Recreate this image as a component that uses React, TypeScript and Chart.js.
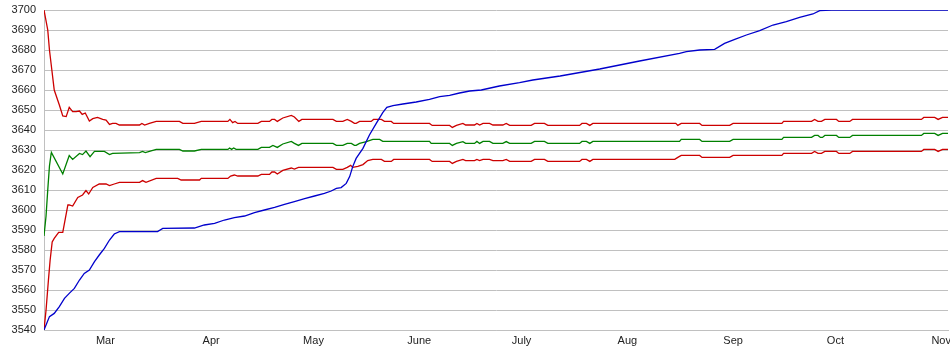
import React, { useEffect, useRef } from "react";
import { Chart, registerables } from "chart.js";

Chart.register(...registerables);

// x = days since Feb 11
const monthDays = [18, 49, 79, 110, 140, 171, 202, 232, 263];
const monthLabels = ["Mar", "Apr", "May", "June", "July", "Aug", "Sep", "Oct", "Nov"];

const blueDays = [0, 1.6, 3.0, 4.5, 6.0, 7.4, 8.9, 10.4, 11.8, 13.3, 14.8, 16.2, 17.7, 19.2, 20.6, 22.1, 33.3, 34.8, 44.1, 47.0, 50.0, 52.9, 55.8, 58.8, 61.7, 64.6, 67.6, 70.5, 73.4, 76.4, 79.3, 82.2, 84.2, 85.7, 87.1, 88.6, 89.6, 90.5, 91.5, 93.5, 95.4, 97.4, 99.3, 100.5, 102.3, 105.2, 109.1, 113.0, 116.0, 118.9, 121.8, 124.8, 128.2, 133.5, 139.4, 143.3, 151.3, 162.9, 174.6, 186.3, 188.3, 192.2, 196.6, 199.5, 202.5, 205.9, 209.8, 213.7, 217.6, 221.5, 225.4, 227.4, 230.8, 265];
const blueValues = [3540, 3546.7, 3548.3, 3551.7, 3555.8, 3558.3, 3560.8, 3565, 3568.3, 3570, 3574.2, 3577.5, 3580.8, 3585, 3588, 3589.2, 3589.2, 3590.8, 3591, 3592.5, 3593.3, 3595, 3596.2, 3597, 3598.7, 3600, 3601.3, 3602.8, 3604.2, 3605.7, 3607, 3608.3, 3609.5, 3610.8, 3611.2, 3613.3, 3616.7, 3621.7, 3625.8, 3630.8, 3637.5, 3643.3, 3648.7, 3651.3, 3652.2, 3653, 3654, 3655.3, 3656.7, 3657.3, 3658.5, 3659.5, 3660, 3662, 3663.7, 3665, 3667, 3670.5, 3674.5, 3678.3, 3679.2, 3680, 3680.3, 3683.3, 3685.3, 3687.5, 3689.7, 3692.5, 3694.2, 3696.3, 3698, 3699.7, 3700, 3700];

const upperDays = [0, 1.1, 1.6, 2.3, 3.0, 4.5, 5.5, 6.5, 7.4, 8.4, 9.4, 10.4, 11.2, 12.1, 13.3, 14.3, 15.7, 17.2, 18.2, 19.2, 20.1, 21.1, 22.1, 28.0, 28.7, 29.5, 30.9, 32.9, 39.7, 40.7, 44.1, 46.1, 53.9, 54.5, 55.3, 56.0, 56.8, 62.7, 63.7, 66.1, 66.8, 67.6, 68.4, 70.0, 72.5, 73.4, 74.7, 75.6, 84.7, 85.7, 87.6, 88.9, 90.1, 91.0, 91.5, 92.5, 95.9, 96.6, 98.9, 99.8, 101.8, 102.5, 113.0, 113.8, 118.9, 119.7, 120.9, 122.8, 123.6, 126.2, 126.9, 127.7, 128.7, 130.6, 131.6, 134.5, 135.5, 136.5, 142.8, 143.8, 146.7, 147.7, 157.0, 157.7, 159.0, 160.0, 160.9, 185.2, 185.8, 186.8, 192.2, 192.9, 201.0, 202.0, 216.3, 216.8, 225.0, 225.9, 226.9, 227.9, 228.9, 232.3, 233.0, 236.2, 237.0, 257.2, 257.9, 261.1, 262.1, 263.4, 265];
const upperValues = [3700, 3690, 3680, 3670, 3660, 3652.5, 3647, 3646.7, 3651.3, 3649.2, 3649.2, 3649.5, 3647.8, 3648.5, 3644.5, 3645.7, 3646.3, 3645.3, 3645, 3642.8, 3643.3, 3643.3, 3642.5, 3642.5, 3643.3, 3642.5, 3643.3, 3644.3, 3644.3, 3643.3, 3643.3, 3644.3, 3644.3, 3645.3, 3643.7, 3644.3, 3643.3, 3643.3, 3644.3, 3644.3, 3645.3, 3645.3, 3644.3, 3646, 3647.3, 3646.5, 3644.3, 3645.3, 3645.3, 3644.3, 3644.3, 3645.3, 3644.3, 3643.3, 3643.3, 3644.3, 3644.3, 3645.3, 3645.3, 3644.3, 3644.3, 3643.3, 3643.3, 3642.3, 3642.3, 3641.3, 3642.3, 3643.3, 3642.5, 3642.5, 3643.3, 3642.5, 3643.3, 3643.3, 3642.5, 3642.5, 3643.3, 3642.3, 3642.3, 3643.3, 3643.3, 3642.3, 3642.3, 3643.3, 3643.3, 3642.3, 3643.3, 3643.3, 3642.3, 3643.3, 3643.3, 3642.3, 3642.3, 3643.3, 3643.3, 3644.3, 3644.3, 3645.3, 3644.3, 3644.3, 3645.3, 3645.3, 3644.3, 3644.3, 3645.3, 3645.3, 3646.3, 3646.3, 3645.3, 3646.3, 3646.3];

const greenDays = [0, 0.6, 1.1, 1.6, 2.1, 2.2, 5.5, 7.4, 8.4, 10.4, 11.3, 12.3, 13.5, 14.8, 17.7, 19.2, 20.1, 28.0, 28.9, 29.7, 30.9, 32.9, 39.7, 40.7, 44.1, 46.1, 53.9, 54.4, 55.0, 55.6, 56.3, 62.7, 63.7, 66.1, 67.1, 68.4, 70.0, 72.5, 73.4, 74.6, 75.6, 84.7, 85.7, 87.6, 88.9, 90.1, 91.0, 91.5, 92.5, 94.5, 96.4, 98.4, 99.3, 113.0, 113.5, 118.9, 119.7, 120.9, 122.8, 123.6, 126.2, 126.9, 127.7, 128.7, 130.6, 131.6, 134.5, 135.5, 136.5, 142.8, 143.8, 146.7, 147.7, 157.0, 157.7, 159.0, 160.0, 160.9, 186.3, 186.8, 192.2, 192.9, 201.0, 202.0, 216.3, 216.8, 225.0, 225.9, 226.9, 227.6, 228.2, 228.9, 232.3, 233.0, 236.2, 237.0, 257.2, 257.9, 261.1, 262.1, 263.4, 265];
const greenValues = [3587, 3597, 3610, 3622, 3628.3, 3628.7, 3618, 3627.2, 3625.3, 3628.3, 3627.7, 3629.5, 3626.7, 3629.3, 3629.3, 3627.7, 3628.3, 3628.7, 3629.3, 3628.7, 3629.3, 3630.3, 3630.3, 3629.5, 3629.5, 3630.3, 3630.3, 3631, 3630.3, 3631, 3630.3, 3630.3, 3631.3, 3631.3, 3632.3, 3631.3, 3633, 3634.3, 3633.3, 3632.3, 3633.3, 3633.3, 3632.3, 3632.3, 3633.3, 3633.3, 3632.3, 3632.3, 3633.3, 3634.2, 3635.3, 3635.3, 3634.3, 3634.3, 3633.3, 3633.3, 3632.3, 3633.3, 3634.2, 3633.3, 3633.3, 3634.3, 3633.3, 3634.3, 3634.3, 3633.3, 3633.3, 3634.2, 3633.3, 3633.3, 3634.3, 3634.3, 3633.3, 3633.3, 3634.3, 3634.3, 3633.3, 3634.3, 3634.3, 3635.3, 3635.3, 3634.3, 3634.3, 3635.3, 3635.3, 3636.3, 3636.3, 3637.3, 3637.3, 3636.3, 3636.3, 3637.3, 3637.3, 3636.3, 3636.3, 3637.3, 3637.3, 3638.3, 3638.3, 3637.3, 3638.3, 3638.3];

const lowerDays = [0, 0.6, 1.3, 1.8, 2.4, 3.0, 4.3, 5.5, 7.0, 7.4, 8.4, 9.9, 11.3, 12.3, 13.1, 14.3, 16.2, 18.2, 19.2, 20.6, 22.1, 28.0, 28.9, 29.9, 32.9, 39.2, 40.2, 45.6, 46.1, 53.9, 54.7, 55.8, 56.8, 62.7, 63.7, 66.1, 66.8, 67.6, 68.4, 70.0, 72.5, 73.4, 74.6, 84.7, 85.7, 87.6, 88.9, 89.9, 90.5, 92.0, 93.5, 94.9, 96.4, 98.9, 99.8, 101.8, 102.5, 113.0, 113.8, 118.9, 119.7, 120.9, 122.8, 123.6, 126.2, 126.9, 127.7, 128.7, 130.6, 131.6, 134.5, 135.5, 136.5, 142.8, 143.8, 146.7, 147.7, 157.0, 157.7, 159.0, 160.0, 160.9, 184.9, 185.8, 186.8, 192.2, 192.9, 201.0, 202.0, 216.3, 216.8, 225.0, 225.9, 226.9, 227.9, 228.9, 232.3, 233.0, 236.2, 237.0, 257.2, 257.9, 261.1, 262.1, 263.4, 265];
const lowerValues = [3540, 3550, 3565, 3575, 3584, 3585.8, 3588.8, 3588.8, 3602.5, 3602.5, 3602, 3606.3, 3607.5, 3609.7, 3608, 3611.3, 3613, 3613, 3612.2, 3613, 3613.8, 3613.8, 3614.7, 3613.8, 3615.8, 3615.8, 3615, 3615, 3615.8, 3615.8, 3617, 3617.5, 3617, 3617, 3617.8, 3617.8, 3619, 3619, 3618, 3619.8, 3621, 3620.5, 3621.3, 3621.3, 3620.3, 3620.3, 3621.3, 3622.3, 3621.3, 3621.8, 3622.7, 3624.7, 3625.3, 3625.3, 3624.3, 3624.3, 3625.3, 3625.3, 3624.3, 3624.3, 3623.3, 3624.3, 3625.3, 3624.7, 3624.7, 3625.3, 3624.7, 3625.3, 3625.3, 3624.7, 3624.7, 3625.3, 3624.3, 3624.3, 3625.3, 3625.3, 3624.3, 3624.3, 3625.3, 3625.3, 3624.3, 3625.3, 3625.3, 3626.3, 3627.3, 3627.3, 3626.3, 3626.3, 3627.3, 3627.3, 3628.3, 3628.3, 3629.3, 3628.3, 3628.3, 3629.3, 3629.3, 3628.3, 3628.3, 3629.3, 3629.3, 3630.3, 3630.3, 3629.3, 3630.3, 3630.3];

const yMin = 3540;
const yMax = 3700;
const yStep = 10;

function pts(xs: number[], ys: number[]) {
  return xs.map((x, i) => ({ x, y: ys[i] }));
}

export default function App() {
  const ref = useRef<HTMLCanvasElement | null>(null);

  useEffect(() => {
    if (!ref.current) return;
    const font = { family: "'Liberation Sans', Arial, sans-serif", size: 11 };
    const common = { pointRadius: 0, borderWidth: 1.3, tension: 0, fill: false };
    const chart = new Chart(ref.current, {
      type: "line",
      data: {
        datasets: [
          { ...common, data: pts(blueDays, blueValues), borderColor: "#0000cc" },
          { ...common, data: pts(upperDays, upperValues), borderColor: "#cc0000" },
          { ...common, data: pts(greenDays, greenValues), borderColor: "#008000" },
          { ...common, data: pts(lowerDays, lowerValues), borderColor: "#cc0000" },
        ],
      },
      options: {
        animation: false,
        responsive: false,
        events: [],
        layout: { padding: { top: 10, right: 14, left: 0, bottom: 0 } },
        plugins: { legend: { display: false }, tooltip: { enabled: false } },
        scales: {
          x: {
            type: "linear",
            min: 0,
            max: 265,
            grid: { display: false, drawTicks: false },
            border: { display: true, color: "#c0c0c0" },
            afterBuildTicks: (s: any) => {
              s.ticks = monthDays.map((v) => ({ value: v }));
            },
            afterFit: (s: any) => {
              s.height = 25;
              s.paddingLeft = 0;
              s.paddingRight = 0;
            },
            ticks: {
              autoSkip: false,
              maxRotation: 0,
              padding: 4,
              color: "#222",
              font,
              callback: (v: any) => {
                const i = monthDays.indexOf(Number(v));
                return i >= 0 ? monthLabels[i] : "";
              },
            },
          },
          y: {
            min: yMin,
            max: yMax,
            grid: { color: "#c0c0c0", lineWidth: 1, drawTicks: false },
            border: { display: true, color: "#c0c0c0" },
            afterFit: (s: any) => {
              s.width = 44;
              s.paddingTop = 0;
              s.paddingBottom = 0;
            },
            ticks: {
              stepSize: yStep,
              padding: 8,
              color: "#222",
              font,
              callback: (v: any) => String(v),
            },
          },
        },
      },
    });
    return () => chart.destroy();
  }, []);

  return (
    <div style={{ position: "absolute", left: 0, top: 0, width: 950, height: 355, overflow: "hidden", background: "#fff" }}>
      <canvas ref={ref} width={962} height={355} style={{ display: "block" }} />
    </div>
  );
}
